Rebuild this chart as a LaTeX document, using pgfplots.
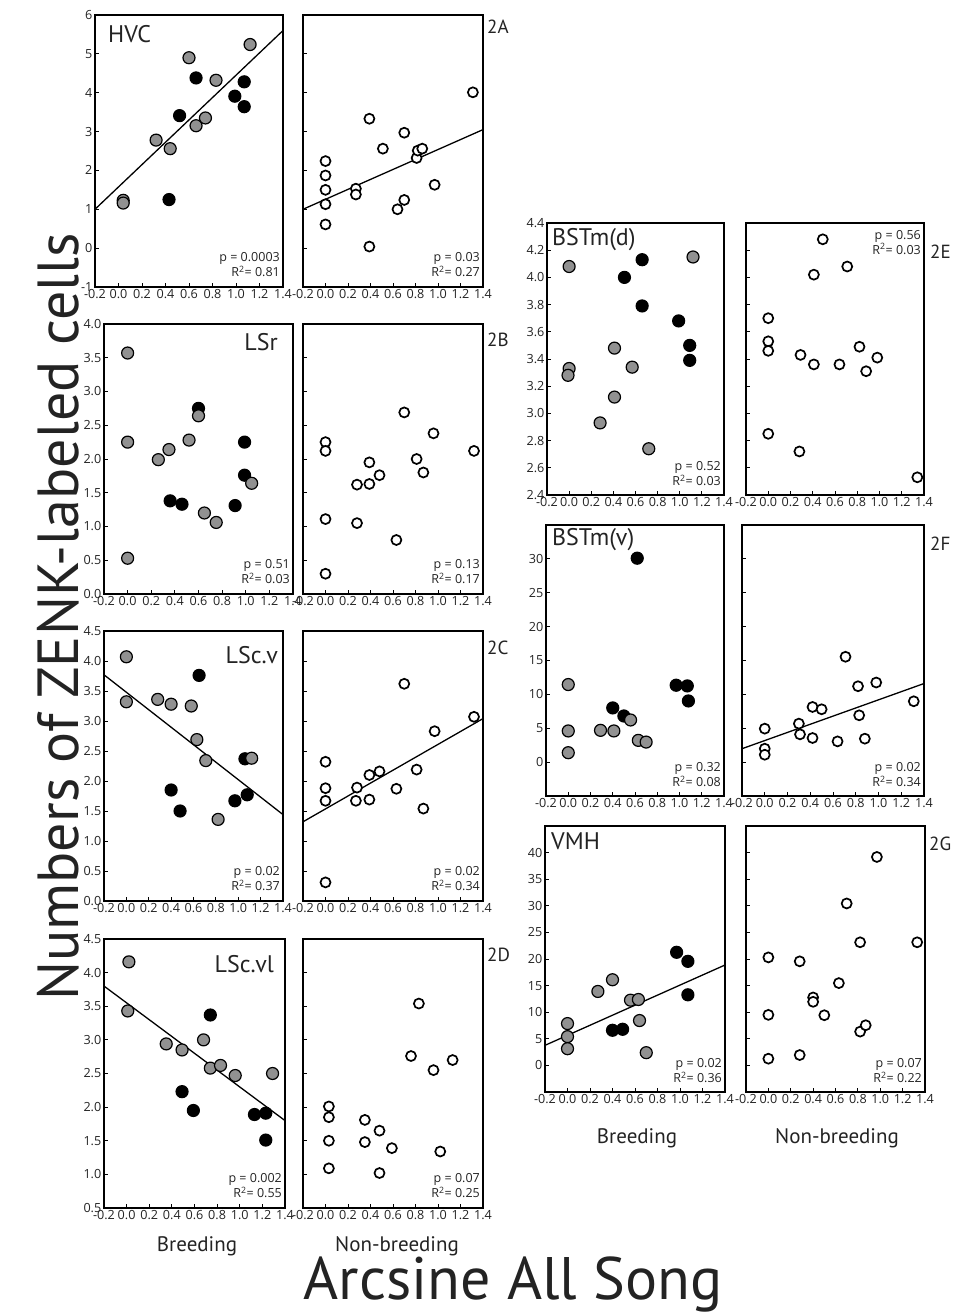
\documentclass[border=0pt]{standalone}
\usepackage{pgfplots}
\pgfplotsset{compat=1.18}
\usepackage{fontspec}
\setmainfont{PT Sans}
\newfontfamily\tickfont{Open Sans}
\definecolor{mgray}{RGB}{145,145,145}
\definecolor{txt}{RGB}{35,35,35}
\newcommand{\pr}[2]{p = #1\\R\textsuperscript{2}= #2}
\pgfplotsset{
  panel/.style={
    scale only axis, anchor=south west, clip=false,
    xmin=-0.2, xmax=1.4,
    xtick={-0.2,0,0.2,0.4,0.6,0.8,1.0,1.2,1.4},
    xticklabel style={/pgf/number format/fixed,/pgf/number format/fixed zerofill,/pgf/number format/precision=1, inner sep=2pt},
    yticklabel style={inner sep=2.5pt},
    tick align=inside, tick pos=left,
    major tick length=4pt,
    axis line style={line width=1.3pt},
    tick style={line width=0.9pt, black},
    tick label style={font=\tickfont\fontsize{12.6}{12.6}\selectfont, text=txt},
    /pgf/number format/assume math mode=true,
  },
  ydec/.style={yticklabel style={/pgf/number format/fixed,/pgf/number format/fixed zerofill,/pgf/number format/precision=1}},
  gr/.style={only marks, mark=*, mark size=6pt, mark options={fill=mgray, draw=black, line width=1.2pt}},
  bk/.style={only marks, mark=*, mark size=6pt, mark options={fill=black, draw=black, line width=1.2pt}},
  op/.style={only marks, mark=*, mark size=5pt, mark options={fill=white, draw=black, line width=1.7pt}},
  fit/.style={black, line width=1.3pt, no marks},
}
\tikzset{
  pv/.style={anchor=south east, align=right, inner sep=0pt, font=\tickfont\fontsize{12.5}{15}\selectfont, text=txt},
  pvt/.style={anchor=north east, align=right, inner sep=0pt, font=\tickfont\fontsize{12.5}{15}\selectfont, text=txt},
  nm/.style={inner sep=0pt, font=\fontsize{24}{24}\selectfont, text=txt},
  pid/.style={anchor=north west, inner sep=0pt, font=\fontsize{19}{19}\selectfont, text=txt},
  grp/.style={anchor=base, inner sep=0pt, font=\fontsize{21}{21}\selectfont, text=txt},
}
\begin{document}
\begin{tikzpicture}[x=1pt,y=1pt]
\useasboundingbox (0,0) rectangle (955,1315);

% ===== 2A =====
\begin{axis}[panel, at={(95pt,1028pt)}, width=188pt, height=272pt, ymin=-1, ymax=6, ytick={-1,0,1,2,3,4,5,6}]
\addplot[fit] coordinates {(-0.2,1.0) (1.4,5.6)};
\addplot[bk] coordinates {(0.43,1.25) (0.52,3.41) (0.66,4.38) (0.99,3.91) (1.07,4.28) (1.07,3.64)};
\addplot[gr] coordinates {(0.04,1.23) (0.04,1.16) (0.32,2.78) (0.44,2.56) (0.60,4.90) (0.66,3.15) (0.74,3.35) (0.83,4.32) (1.12,5.24)};
\end{axis}
\begin{axis}[panel, at={(303pt,1028pt)}, width=180pt, height=272pt, ymin=-1, ymax=6, ytick={-1,0,1,2,3,4,5,6}, yticklabels={}]
\addplot[fit] coordinates {(-0.2,1.0) (1.4,3.05)};
\addplot[op] coordinates {(0,2.24) (0,1.87) (0,1.50) (0,1.13) (0,0.61) (0.39,3.33) (0.39,0.04) (0.27,1.53) (0.27,1.38) (0.51,2.56) (0.64,1.0) (0.70,1.24) (0.70,2.97) (0.81,2.32) (0.82,2.51) (0.86,2.56) (0.97,1.63) (1.31,4.01)};
\end{axis}

% ===== 2B =====
\begin{axis}[panel, ydec, at={(104pt,721pt)}, width=189pt, height=270pt, ymin=0, ymax=4, ytick={0,0.5,1,1.5,2,2.5,3,3.5,4}]
\addplot[bk] coordinates {(0.36,1.38) (0.46,1.33) (0.60,2.75) (0.91,1.31) (0.99,2.25) (0.99,1.76)};
\addplot[gr] coordinates {(0,3.57) (0,2.25) (0,0.53) (0.26,1.99) (0.35,2.14) (0.52,2.28) (0.60,2.64) (0.65,1.20) (0.75,1.06) (1.05,1.64)};
\end{axis}
\begin{axis}[panel, at={(303pt,721pt)}, width=180pt, height=270pt, ymin=0, ymax=4, ytick={0,0.5,1,1.5,2,2.5,3,3.5,4}, yticklabels={}]
\addplot[op] coordinates {(0,2.25) (0,2.12) (0,1.11) (0,0.30) (0.28,1.62) (0.28,1.05) (0.39,1.95) (0.39,1.63) (0.48,1.76) (0.63,0.80) (0.70,2.69) (0.81,2.0) (0.87,1.80) (0.96,2.38) (1.32,2.12)};
\end{axis}

% ===== 2C =====
\begin{axis}[panel, ydec, at={(104pt,414pt)}, width=179pt, height=270pt, ymin=0, ymax=4.5, ytick={0,0.5,1,1.5,2,2.5,3,3.5,4,4.5}]
\addplot[fit] coordinates {(-0.2,3.77) (1.4,1.44)};
\addplot[bk] coordinates {(0.40,1.85) (0.48,1.50) (0.65,3.76) (0.97,1.67) (1.06,2.37) (1.08,1.77)};
\addplot[gr] coordinates {(0,4.07) (0,3.32) (0.28,3.36) (0.40,3.28) (0.58,3.25) (0.63,2.69) (0.71,2.34) (0.82,1.36) (1.12,2.38)};
\end{axis}
\begin{axis}[panel, at={(303pt,414pt)}, width=180pt, height=270pt, ymin=0, ymax=4.5, ytick={0,0.5,1,1.5,2,2.5,3,3.5,4,4.5}, yticklabels={}]
\addplot[fit] coordinates {(-0.2,1.32) (1.4,3.04)};
\addplot[op] coordinates {(0,2.32) (0,1.88) (0,1.67) (0,0.31) (0.28,1.89) (0.27,1.67) (0.39,2.10) (0.39,1.69) (0.48,2.16) (0.63,1.87) (0.70,3.62) (0.81,2.19) (0.87,1.54) (0.97,2.83) (1.32,3.07)};
\end{axis}

% ===== 2D =====
\begin{axis}[panel, ydec, at={(104pt,107pt)}, width=181pt, height=269pt, ymin=0.5, ymax=4.5, ytick={0.5,1,1.5,2,2.5,3,3.5,4,4.5}]
\addplot[fit] coordinates {(-0.2,3.80) (1.4,1.80)};
\addplot[bk] coordinates {(0.49,2.23) (0.59,1.95) (0.74,3.37) (1.13,1.89) (1.23,1.91) (1.23,1.51)};
\addplot[gr] coordinates {(0.02,4.16) (0.01,3.43) (0.35,2.94) (0.49,2.85) (0.68,3.00) (0.74,2.58) (0.83,2.62) (0.96,2.47) (1.29,2.50)};
\end{axis}
\begin{axis}[panel, at={(303pt,107pt)}, width=180pt, height=269pt, ymin=0.5, ymax=4.5, ytick={0.5,1,1.5,2,2.5,3,3.5,4,4.5}, yticklabels={}]
\addplot[op] coordinates {(0.03,2.01) (0.03,1.85) (0.03,1.50) (0.03,1.09) (0.35,1.81) (0.35,1.48) (0.48,1.65) (0.48,1.02) (0.59,1.39) (0.76,2.76) (0.83,3.54) (0.96,2.55) (1.02,1.34) (1.13,2.70)};
\end{axis}

% ===== 2E =====
\begin{axis}[panel, ydec, at={(547pt,820pt)}, width=177pt, height=272pt, ymin=2.4, ymax=4.4, ytick={2.4,2.6,2.8,3.0,3.2,3.4,3.6,3.8,4.0,4.2,4.4}]
\addplot[bk] coordinates {(0.50,4.00) (0.66,4.13) (0.66,3.79) (0.99,3.68) (1.09,3.50) (1.09,3.39)};
\addplot[gr] coordinates {(0,4.08) (0,3.33) (-0.01,3.28) (0.28,2.93) (0.41,3.48) (0.41,3.12) (0.57,3.34) (0.72,2.74) (1.12,4.15)};
\end{axis}
\begin{axis}[panel, at={(746pt,820pt)}, width=178pt, height=272pt, ymin=2.4, ymax=4.4, ytick={2.4,2.6,2.8,3.0,3.2,3.4,3.6,3.8,4.0,4.2,4.4}, yticklabels={}]
\addplot[op] coordinates {(0,3.70) (0,3.53) (0,3.46) (0,2.85) (0.29,3.43) (0.28,2.72) (0.41,4.02) (0.41,3.36) (0.49,4.28) (0.64,3.36) (0.71,4.08) (0.82,3.49) (0.88,3.31) (0.98,3.41) (1.34,2.53)};
\end{axis}

% ===== 2F =====
\begin{axis}[panel, at={(546pt,519pt)}, width=178pt, height=271pt, ymin=-5, ymax=35, ytick={0,5,10,15,20,25,30}]
\addplot[bk] coordinates {(0.40,8.0) (0.50,6.81) (0.62,30.1) (0.97,11.35) (1.07,11.25) (1.08,9.03)};
\addplot[gr] coordinates {(0,11.45) (0,4.6) (0,1.39) (0.29,4.69) (0.41,4.6) (0.56,6.22) (0.63,3.21) (0.70,2.96)};
\end{axis}
\begin{axis}[panel, at={(742pt,519pt)}, width=182pt, height=271pt, ymin=-5, ymax=35, ytick={0,5,10,15,20,25,30}, yticklabels={}]
\addplot[fit] coordinates {(-0.2,1.98) (1.4,11.6)};
\addplot[op] coordinates {(0,4.94) (0,1.98) (0,1.09) (0.30,5.68) (0.31,4.1) (0.42,8.14) (0.42,3.56) (0.50,7.8) (0.64,3.06) (0.71,15.55) (0.82,11.2) (0.83,6.91) (0.88,3.46) (0.98,11.75) (1.31,8.98)};
\end{axis}

% ===== 2G =====
\begin{axis}[panel, at={(545pt,223pt)}, width=180pt, height=266pt, ymin=-5, ymax=45, ytick={0,5,10,15,20,25,30,35,40}]
\addplot[fit] coordinates {(-0.2,3.77) (1.4,18.87)};
\addplot[bk] coordinates {(0.40,6.6) (0.49,6.79) (0.97,21.26) (1.07,19.56) (1.07,13.27)};
\addplot[gr] coordinates {(0,7.86) (0,5.41) (0,3.14) (0.27,13.9) (0.40,16.1) (0.56,12.26) (0.63,12.39) (0.64,8.43) (0.70,2.39)};
\end{axis}
\begin{axis}[panel, at={(746pt,223pt)}, width=179pt, height=266pt, ymin=-5, ymax=45, ytick={0,5,10,15,20,25,30,35,40}, yticklabels={}]
\addplot[op] coordinates {(0,20.3) (0,9.5) (0,1.26) (0.28,19.56) (0.28,1.95) (0.40,12.77) (0.40,11.95) (0.50,9.43) (0.63,15.47) (0.70,30.44) (0.82,23.14) (0.82,6.35) (0.87,7.55) (0.97,39.18) (1.33,23.14)};
\end{axis}

% ===== region names =====
\node[nm, anchor=north west] at (108,1290) {HVC};
\node[nm, anchor=north east] at (278,982) {LSr};
\node[nm, anchor=north east] at (278,669) {LSc.v};
\node[nm, anchor=north east] at (274,360) {LSc.vl};
\node[nm, anchor=north west] at (552,1087) {BSTm(d)};
\node[nm, anchor=north west] at (552,787) {BSTm(v)};
\node[nm, anchor=north west] at (551,482) {VMH};

% ===== panel ids =====
\node[pid] at (487,1295) {2A};
\node[pid] at (487,982) {2B};
\node[pid] at (487,674) {2C};
\node[pid] at (487,367) {2D};
\node[pid] at (930,1070) {2E};
\node[pid] at (930,778) {2F};
\node[pid] at (929,478) {2G};

% ===== statistics =====
\node[pv] at (280,1038) {\pr{0.0003}{0.81}};
\node[pv] at (480,1038) {\pr{0.03}{0.27}};
\node[pv] at (290,731) {\pr{0.51}{0.03}};
\node[pv] at (480,731) {\pr{0.13}{0.17}};
\node[pv] at (280,424) {\pr{0.02}{0.37}};
\node[pv] at (480,424) {\pr{0.02}{0.34}};
\node[pv] at (282,117) {\pr{0.002}{0.55}};
\node[pv] at (480,117) {\pr{0.07}{0.25}};
\node[pv] at (721,829) {\pr{0.52}{0.03}};
\node[pvt] at (921,1085) {\pr{0.56}{0.03}};
\node[pv] at (721,528) {\pr{0.32}{0.08}};
\node[pv] at (921,528) {\pr{0.02}{0.34}};
\node[pv] at (722,232) {\pr{0.02}{0.36}};
\node[pv] at (922,232) {\pr{0.07}{0.22}};

% ===== group labels =====
\node[grp] at (197,63) {Breeding};
\node[grp] at (397,63) {Non-breeding};
\node[grp] at (637,171) {Breeding};
\node[grp] at (837,171) {Non-breeding};

% ===== big axis titles =====
\node[anchor=base, inner sep=0pt, font=\fontsize{60}{60}\selectfont, text=txt] at (513,15) {Arcsine All Song};
\node[anchor=base, rotate=90, inner sep=0pt, font=\fontsize{58}{58}\selectfont, text=txt] at (78,698) {Numbers of ZENK-labeled cells};
\end{tikzpicture}
\end{document}
